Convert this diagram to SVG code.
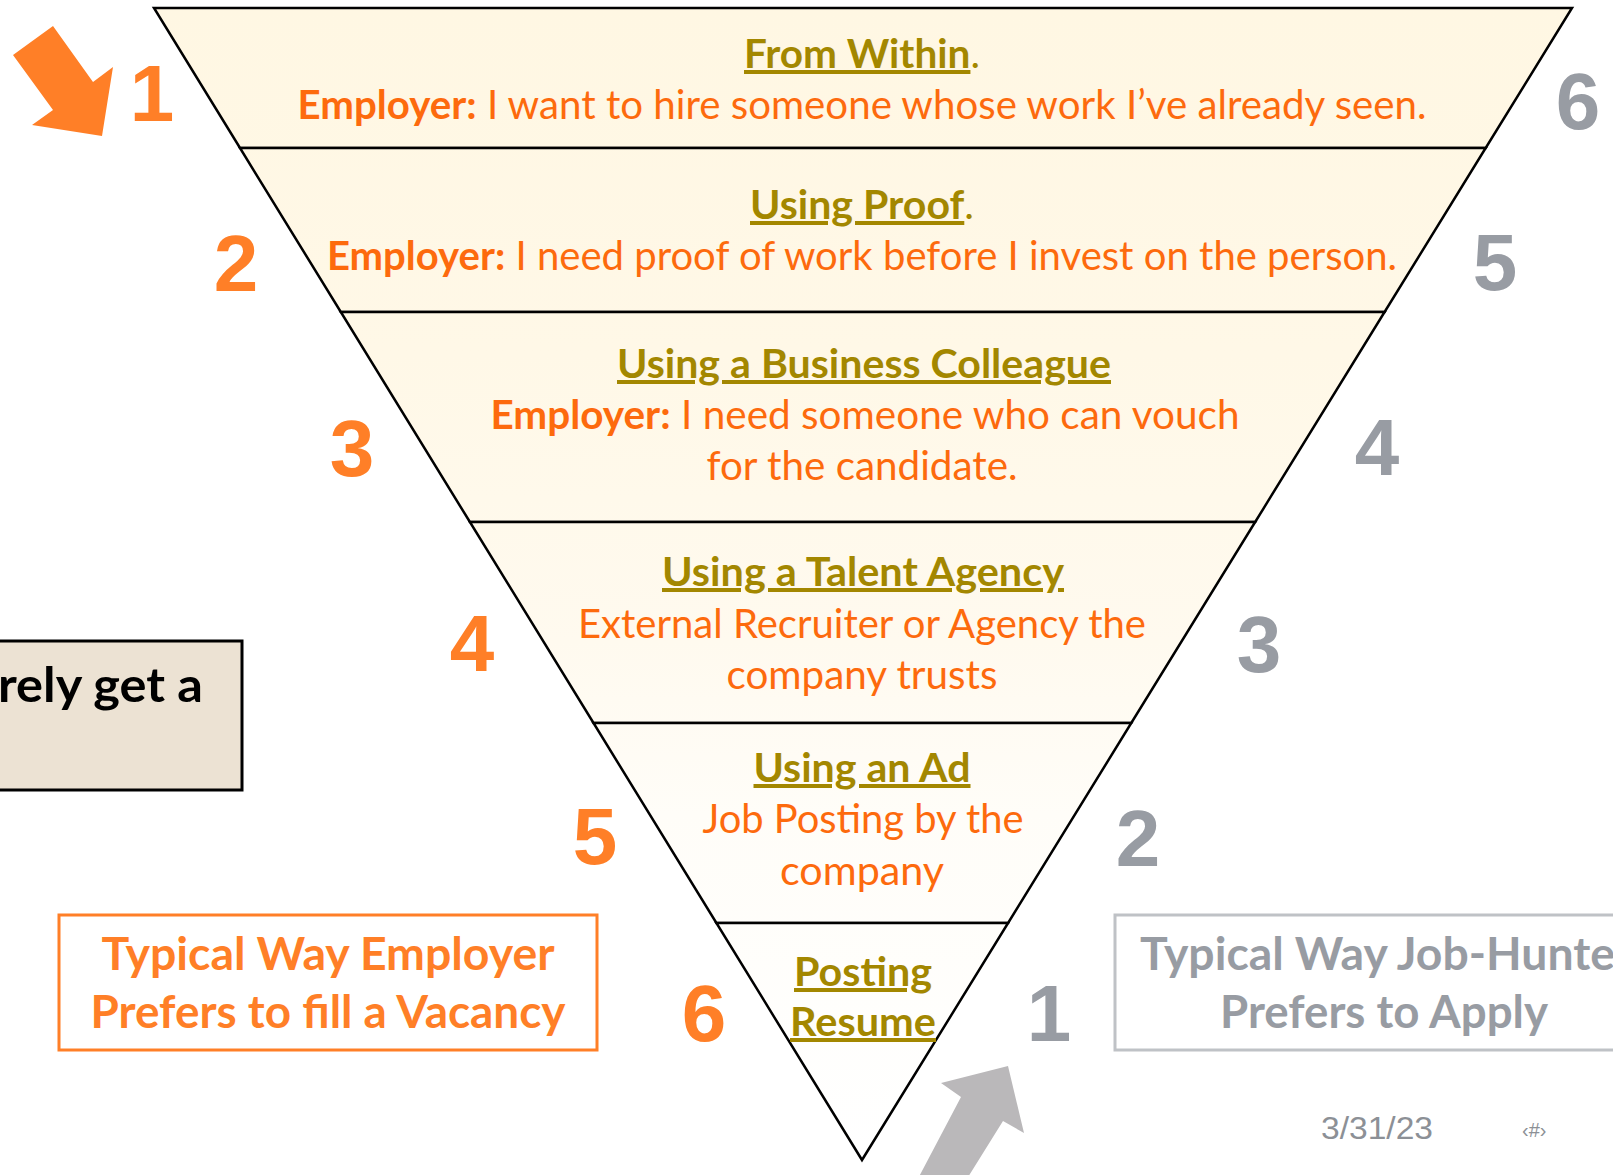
<svg xmlns="http://www.w3.org/2000/svg" width="1613" height="1175" viewBox="0 0 1613 1175">
<defs>
<linearGradient id="bandFill" gradientUnits="userSpaceOnUse" x1="0" y1="8" x2="0" y2="1160">
<stop offset="0" stop-color="#FFF7E3"/>
<stop offset="0.3" stop-color="#FFF8E7"/>
<stop offset="0.55" stop-color="#FFFAEF"/>
<stop offset="0.7" stop-color="#FFFDF8"/>
<stop offset="1" stop-color="#FFFFFF"/>
</linearGradient>
<style>
.band{fill:url(#bandFill);stroke:#000;stroke-width:2.5;stroke-linejoin:miter}
.title{font-family:Lato,"Open Sans","Liberation Sans",sans-serif;font-size:40px;font-weight:bold;fill:#A38700;text-anchor:middle}
.ul{text-decoration:underline}
.body{font-family:Lato,"Open Sans","Liberation Sans",sans-serif;font-size:40px;fill:#FD6A0D;text-anchor:middle}
.b{font-weight:bold}
.numL{font-family:"Liberation Sans",Arial,sans-serif;font-size:80px;font-weight:bold;fill:#FF7F27;text-anchor:middle}
.numR{font-family:"Liberation Sans",Arial,sans-serif;font-size:80px;font-weight:bold;fill:#989CA3;text-anchor:middle}
.boxT{font-family:Lato,"Open Sans","Liberation Sans",sans-serif;font-size:46px;font-weight:bold;text-anchor:middle}
.foot{font-family:"Liberation Sans",Arial,sans-serif;fill:#8C9096}
</style>
</defs>
<rect x="0" y="0" width="1613" height="1175" fill="#FFFFFF"/>

<g id="band1">
<polygon class="band" points="154,8 1572,8 1485.7,148 240,148"/>
<text class="title" x="862" y="68" textLength="236" lengthAdjust="spacingAndGlyphs"><tspan class="ul">From Within</tspan><tspan font-weight="normal">.</tspan></text>
<text class="body" x="862" y="119" textLength="1129" lengthAdjust="spacingAndGlyphs"><tspan class="b">Employer:</tspan> I want to hire someone whose work I’ve already seen.</text>
</g>
<g id="band2">
<polygon class="band" points="240,148 1485.7,148 1384.6,312 340.8,312"/>
<text class="title" x="862" y="219" textLength="224" lengthAdjust="spacingAndGlyphs"><tspan class="ul">Using Proof</tspan><tspan font-weight="normal">.</tspan></text>
<text class="body" x="862" y="270" textLength="1070" lengthAdjust="spacingAndGlyphs"><tspan class="b">Employer:</tspan> I need proof of work before I invest on the person.</text>
</g>
<g id="band3">
<polygon class="band" points="340.8,312 1384.6,312 1255.2,522 469.9,522"/>
<text class="title ul" x="864" y="378" textLength="494" lengthAdjust="spacingAndGlyphs">Using a Business Colleague</text>
<text class="body" x="865" y="429" textLength="749" lengthAdjust="spacingAndGlyphs"><tspan class="b">Employer:</tspan> I need someone who can vouch</text>
<text class="body" x="862" y="480" textLength="311" lengthAdjust="spacingAndGlyphs">for the candidate.</text>
</g>
<g id="band4">
<polygon class="band" points="469.9,522 1255.2,522 1131.3,723 593.5,723"/>
<text class="title ul" x="863" y="586" textLength="402" lengthAdjust="spacingAndGlyphs">Using a Talent Agency</text>
<text class="body" x="862" y="638" textLength="568" lengthAdjust="spacingAndGlyphs">External Recruiter or Agency the</text>
<text class="body" x="862" y="689" textLength="271" lengthAdjust="spacingAndGlyphs">company trusts</text>
</g>
<g id="band5">
<polygon class="band" points="593.5,723 1131.3,723 1008.1,923 716.4,923"/>
<text class="title ul" x="862" y="782" textLength="217" lengthAdjust="spacingAndGlyphs">Using an Ad</text>
<text class="body" x="863" y="833" textLength="321" lengthAdjust="spacingAndGlyphs">Job Posting by the</text>
<text class="body" x="862" y="885" textLength="164" lengthAdjust="spacingAndGlyphs">company</text>
</g>
<g id="band6">
<polygon class="band" points="716.4,923 1008.1,923 862,1160"/>
<text class="title ul" x="863" y="986" textLength="138" lengthAdjust="spacingAndGlyphs">Posting</text>
<text class="title ul" x="863" y="1036" textLength="146" lengthAdjust="spacingAndGlyphs">Resume</text>
</g>

<g id="employer-rank">
<text class="numL" x="152" y="121">1</text>
<text class="numL" x="236" y="291">2</text>
<text class="numL" x="352" y="476">3</text>
<text class="numL" x="472" y="671">4</text>
<text class="numL" x="595" y="864">5</text>
<text class="numL" x="704" y="1041">6</text>
</g>
<g id="jobhunter-rank">
<text class="numR" x="1578" y="129">6</text>
<text class="numR" x="1495" y="290">5</text>
<text class="numR" x="1377" y="475">4</text>
<text class="numR" x="1259" y="672">3</text>
<text class="numR" x="1138" y="866">2</text>
<text class="numR" x="1049" y="1041">1</text>
</g>

<g id="connectors">
<polygon id="arrow-employer" points="13,55 53,26 93,82 113,67 102,136 32,125 53,110" fill="#FF7F27"/>
<polygon id="arrow-jobhunter" points="1008,1066 1024,1133 1003,1121 960,1190 912,1190 961,1097 941,1083" fill="#BAB8BA"/>
</g>

<g id="note-box">
<rect x="-10" y="641" width="252" height="149" fill="#ECE2D3" stroke="#000" stroke-width="3"/>
<text x="-2" y="702" font-family="Lato,'Open Sans','Liberation Sans',sans-serif" font-size="48" font-weight="bold" fill="#000" textLength="205" lengthAdjust="spacingAndGlyphs">rely get a</text>
</g>

<g id="employer-label">
<rect x="59" y="915" width="538" height="135" fill="none" stroke="#FF7F27" stroke-width="3"/>
<text class="boxT" x="328" y="970" fill="#FF7F27" textLength="453" lengthAdjust="spacingAndGlyphs">Typical Way Employer</text>
<text class="boxT" x="328" y="1028" fill="#FF7F27" textLength="475" lengthAdjust="spacingAndGlyphs">Prefers to fill a Vacancy</text>
</g>

<g id="jobhunter-label">
<rect x="1115" y="915" width="540" height="135" fill="none" stroke="#BFC2C6" stroke-width="3"/>
<text x="1140" y="970" font-family="Lato,'Open Sans','Liberation Sans',sans-serif" font-size="46" font-weight="bold" fill="#989CA3" textLength="475" lengthAdjust="spacingAndGlyphs">Typical Way Job-Hunte</text>
<text class="boxT" x="1384" y="1028" fill="#989CA3" textLength="328" lengthAdjust="spacingAndGlyphs">Prefers to Apply</text>
</g>

<g id="footer">
<text class="foot" x="1321" y="1139" font-size="31" textLength="112" lengthAdjust="spacingAndGlyphs">3/31/23</text>
<text class="foot" x="1522" y="1137" font-size="20">‹#›</text>
</g>
</svg>
